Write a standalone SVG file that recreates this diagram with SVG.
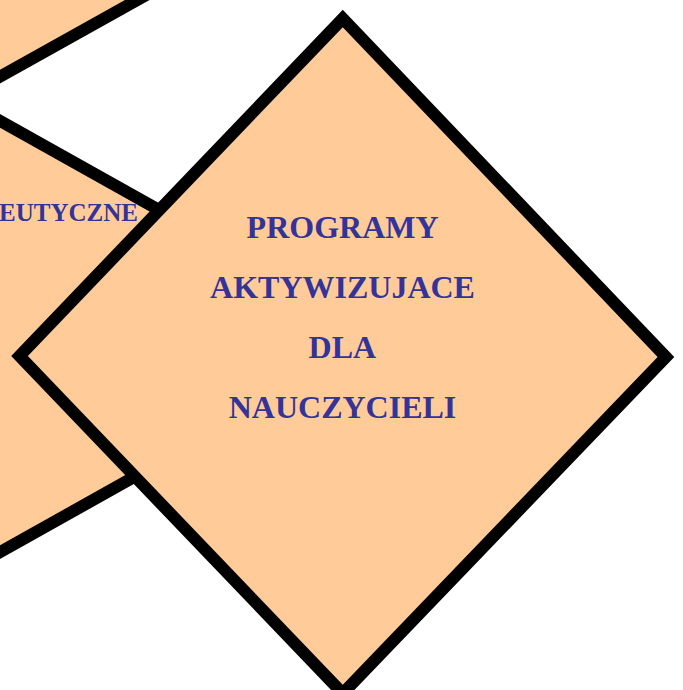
<svg xmlns="http://www.w3.org/2000/svg" width="683" height="690" viewBox="0 0 683 690">
<style>
.d{fill:#FFCC99;stroke:#000;stroke-width:12;stroke-linejoin:miter}
.t{font-family:"Liberation Serif","Times New Roman",serif;font-weight:bold;fill:#333399}
</style>
<rect width="683" height="690" fill="#fff"/>
<g id="node-top-left">
<polygon class="d" points="-20,87.7 157,-11 -20,-110 -197,-11"/>
</g>
<g id="node-left">
<polygon class="d" points="-15,112.5 385,336.5 -15,560.5 -415,336.5"/>
<text class="t" x="138" y="221" font-size="25" text-anchor="end">EUTYCZNE</text>
</g>
<g id="node-main">
<polygon class="d" points="342.75,18.5 666,357 342.75,693.5 19.5,356"/>
<text class="t" font-size="32" text-anchor="middle">
<tspan x="346" y="237.5">PROGRAMY</tspan>
<tspan x="346.5" y="297.5">AKTYWIZUJACE</tspan>
<tspan x="345.5" y="358">DLA</tspan>
<tspan x="342.5" y="418">NAUCZYCIELI</tspan>
</text>
</g>
<g id="connectors"/>
</svg>
